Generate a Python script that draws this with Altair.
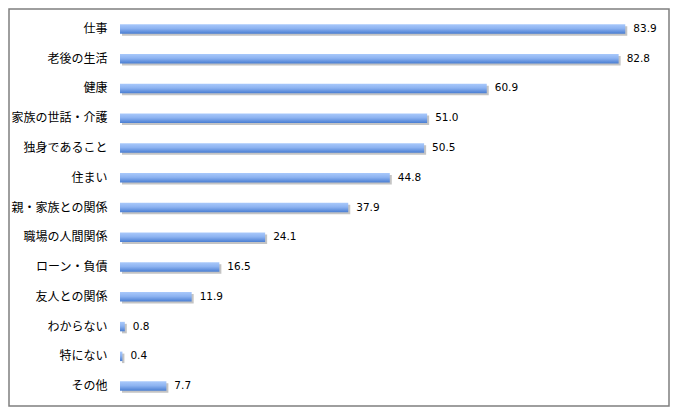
import altair as alt
import pandas as pd

categories = ["仕事", "老後の生活", "健康", "家族の世話・介護", "独身であること", "住まい",
              "親・家族との関係", "職場の人間関係", "ローン・負債", "友人との関係",
              "わからない", "特にない", "その他"]
values = [83.9, 82.8, 60.9, 51.0, 50.5, 44.8, 37.9, 24.1, 16.5, 11.9, 0.8, 0.4, 7.7]
labels = ["83.9", "82.8", "60.9", "51.0", "50.5", "44.8", "37.9", "24.1", "16.5", "11.9", "0.8", "0.4", "7.7"]

df = pd.DataFrame({"cat": categories, "val": values, "lab": labels})

W, H = 542, 387
PL, PT, PR, PB = 112, 6, 8, 6

x = alt.X("val:Q", scale=alt.Scale(domain=[0, 90], nice=False, zero=True), axis=None)
y = alt.Y("cat:N", sort=categories, scale=alt.Scale(paddingInner=0.0, paddingOuter=0.0),
          axis=alt.Axis(title=None, domain=False, ticks=False, grid=False, labelPadding=13,
                        labelFont="Noto Sans CJK JP", labelFontSize=12, labelColor="#000000",
                        labelLimit=200))

base = alt.Chart(df)

shadow = base.mark_bar(size=9.5, color="#8a8a8a", opacity=0.5, xOffset=2, yOffset=2).encode(x=x, y=y)

grad = alt.Gradient(gradient="linear", x1=0, y1=0, x2=0, y2=1,
                    stops=[alt.GradientStop(color="#a9c9fb", offset=0),
                           alt.GradientStop(color="#8db3f1", offset=0.45),
                           alt.GradientStop(color="#4a7ed2", offset=1)])
bars = base.mark_bar(size=9.5, color=grad).encode(x=x, y=y)

text = base.mark_text(align="left", baseline="middle", dx=8, font="DejaVu Sans", fontSize=10.5,
                      color="#000000").encode(x=x, y=y, text="lab:N")

border = alt.Chart(pd.DataFrame({"a": [0]})).mark_rect(
    fill=None, stroke="#7f7f7f", strokeWidth=1.5).encode(
    x=alt.value(-PL + 1), x2=alt.value(W + PR - 1),
    y=alt.value(-PT + 1), y2=alt.value(H + PB - 1))

chart = alt.layer(shadow, bars, text, border).properties(
    width=W, height=H,
    autosize=alt.AutoSizeParams(type="none"),
    padding={"left": PL, "top": PT, "right": PR, "bottom": PB},
    background="#ffffff",
).configure_view(stroke=None)

chart.save("out.html", embed_options={"renderer": "svg", "actions": False})
